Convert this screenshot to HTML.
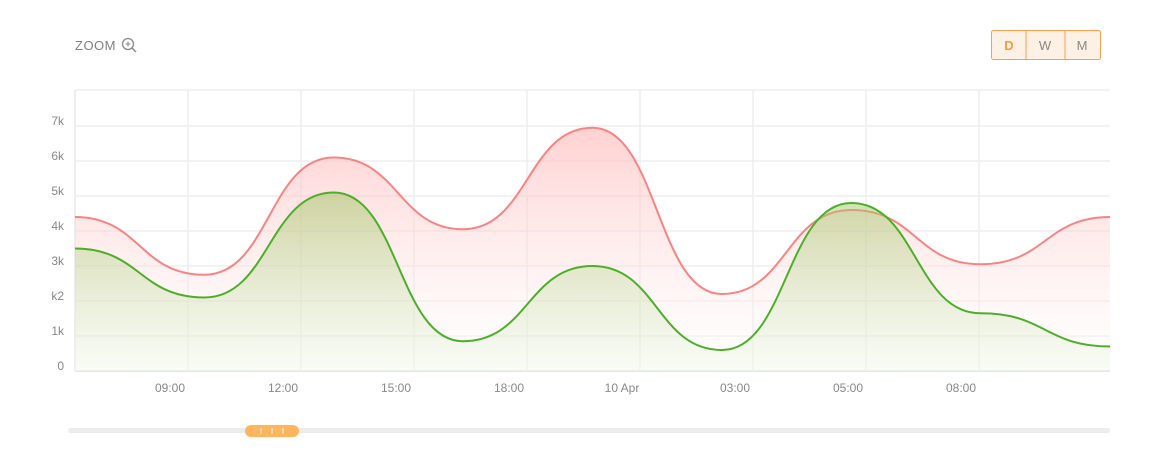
<!DOCTYPE html>
<html><head><meta charset="utf-8"><style>
body{margin:0;background:#fff;font-family:"Liberation Sans",sans-serif;}
#wrap{position:relative;width:1160px;height:467px;overflow:hidden;}
</style></head><body>
<div id="wrap">
<svg id="chart" width="1160" height="467">
<defs>
<linearGradient id="gr" x1="0" y1="0" x2="0" y2="1">
<stop offset="0" stop-color="#ffb3b3" stop-opacity="0.6"/><stop offset="1" stop-color="#fff" stop-opacity="0.3"/></linearGradient>
<linearGradient id="gg" x1="0" y1="0" x2="0" y2="1">
<stop offset="0" stop-color="#9cc45e" stop-opacity="0.5"/><stop offset="1" stop-color="#e8f5e0" stop-opacity="0.3"/></linearGradient>
</defs>
<text x="75" y="50" font-size="13" fill="#808080" letter-spacing="0.5">ZOOM</text>
<g><circle cx="128" cy="44" r="5.5" fill="none" stroke="#888" stroke-width="1.3"/><line x1="132" y1="48" x2="136" y2="52" stroke="#888" stroke-width="1.5"/><line x1="125.5" y1="44" x2="130.5" y2="44" stroke="#888"/><line x1="128" y1="41.5" x2="128" y2="46.5" stroke="#888"/></g>
<g>
<rect x="991.5" y="30.5" width="109" height="29" rx="2" fill="#fdf1e6" stroke="#f8a04f"/>
<line x1="1026" y1="31" x2="1026" y2="59" stroke="#f8a04f"/><line x1="1065" y1="31" x2="1065" y2="59" stroke="#f8a04f"/>
<text x="1009" y="50" text-anchor="middle" font-size="13" font-weight="bold" fill="#f89a3c">D</text>
<text x="1045" y="50" text-anchor="middle" font-size="13" fill="#888">W</text>
<text x="1082" y="50" text-anchor="middle" font-size="13" fill="#888">M</text>
</g>
<g id="grid"></g><g id="areas"></g><g id="axes"></g>
<g>
<rect x="68" y="428" width="1042" height="5" rx="2.5" fill="#ececec"/>
<rect x="245" y="425" width="54" height="12" rx="6" fill="#ffb45e"/>
<line x1="261" y1="428" x2="261" y2="434" stroke="#fff"/><line x1="272" y1="428" x2="272" y2="434" stroke="#fff"/><line x1="283" y1="428" x2="283" y2="434" stroke="#fff"/>
</g>
</svg>
</div>
<script>
const yTicks=[0,1,2,3,4,5,6,7];
const yTickLabels=["0","1k","k2","3k","4k","5k","6k","7k"];
const xTickLabels=["09:00","12:00","15:00","18:00","10 Apr","03:00","05:00","08:00"];
const redValues=[4.4,2.75,6.1,4.05,6.95,2.2,4.6,3.05,4.4];
const greenValues=[3.5,2.1,5.1,0.85,3.0,0.6,4.8,1.65,0.7];
const NS="http://www.w3.org/2000/svg";
const L=75,R=1110,T=90,B=371;
const y=v=>B-v*35;
const x=i=>L+i*(R-L)/(redValues.length-1);
const xg=i=>L+(i+1)*113;
function mk(tag,at,parent){const e=document.createElementNS(NS,tag);for(const k in at)e.setAttribute(k,at[k]);parent.appendChild(e);return e;}
const grid=document.getElementById('grid'),axes=document.getElementById('axes'),areas=document.getElementById('areas');
mk('line',{x1:L,y1:T,x2:R,y2:T,stroke:'#eee','stroke-width':1.5},grid);
yTicks.forEach((v,i)=>{
 const l=mk('line',{x1:L,y1:y(v),x2:R,y2:y(v),stroke:v===0?'#e6e6e6':'#eee','stroke-width':v===0?2:1.5},grid);
 
 
 const t=mk('text',{x:64,y:y(v)-1,'text-anchor':'end','font-size':12,fill:'#888'},axes);
 t.textContent=yTickLabels[i];
 
 
});
mk('line',{x1:L,y1:T,x2:L,y2:B,stroke:'#eee','stroke-width':2},grid);
xTickLabels.forEach((s,i)=>{
 const l=mk('line',{x1:xg(i),y1:T,x2:xg(i),y2:B,stroke:'#eee','stroke-width':1.5},grid);
 
 
 const t=mk('text',{x:xg(i)-18,y:392,'text-anchor':'middle','font-size':12,fill:'#888'},axes);
 t.textContent=s;
 
 
});
function flatPath(vals){
 const n=vals.length,px=vals.map((v,i)=>x(i)),py=vals.map(v=>y(v));
 let p=`M${px[0]},${py[0]}`;
 for(let i=0;i<n-1;i++){const h=(px[i+1]-px[i])*0.5;
  p+=` C${px[i]+h},${py[i]} ${px[i+1]-h},${py[i+1]} ${px[i+1]},${py[i+1]}`;}
 return p;
}
function series(vals,fill,stroke,name){
 const p=flatPath(vals);
 const a=mk('path',{d:p+` L${R},${B} L${L},${B} Z`,fill:fill},areas);
 
 
 const l=mk('path',{d:p,fill:'none',stroke:stroke,'stroke-width':2},areas);
 
 
}
series(redValues,'url(#gr)','#f98383','red-series');
series(greenValues,'url(#gg)','#4caf2a','green-series');
</script>
</body></html>
